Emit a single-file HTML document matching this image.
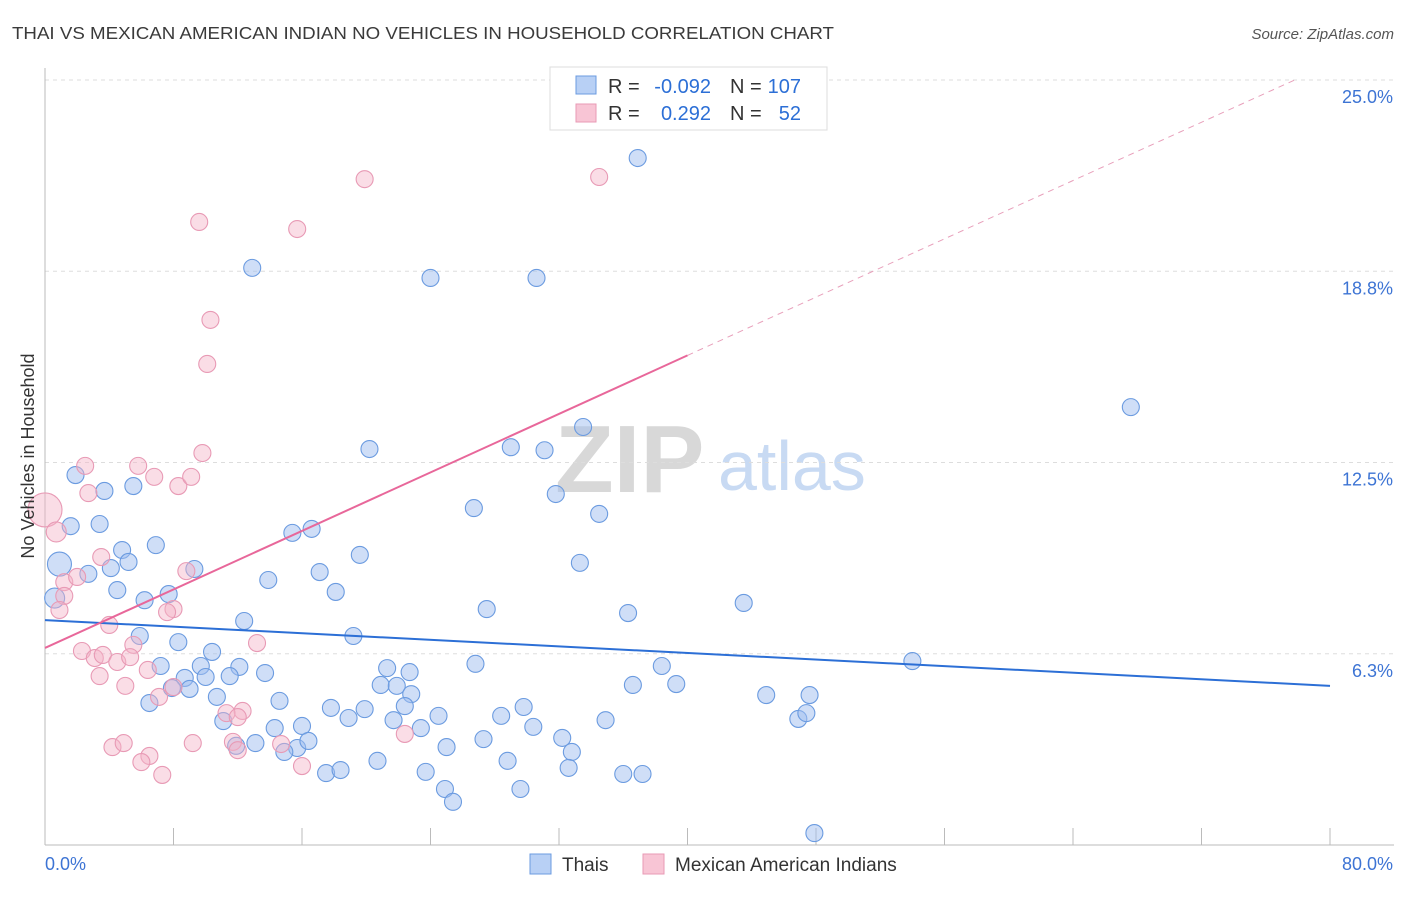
<!DOCTYPE html>
<html><head><meta charset="utf-8"><style>
body{margin:0;background:#fff;font-family:"Liberation Sans",sans-serif}
svg text{font-family:"Liberation Sans",sans-serif}
</style></head><body>
<svg id="chart" width="1406" height="892" xmlns="http://www.w3.org/2000/svg">
<text x="12" y="39" font-size="17.5" fill="#3a3a3a" textLength="822" lengthAdjust="spacingAndGlyphs">THAI VS MEXICAN AMERICAN INDIAN NO VEHICLES IN HOUSEHOLD CORRELATION CHART</text>
<text x="1394" y="39" font-size="15" fill="#555" text-anchor="end" font-style="italic">Source: ZipAtlas.com</text>
<g>
<text x="555" y="492" font-size="96" fill="#d8d8d8" font-family="Liberation Serif" font-weight="bold">ZIP</text>
<text x="718" y="490" font-size="70" fill="#c8daf3">atlas</text>
</g>
<g id="grid"></g>
<g id="axes"></g>
<g id="marks"></g>
<g>
<rect x="550" y="67" width="277" height="63" fill="#fff" stroke="#ddd"/>
<rect x="576" y="76" width="20" height="18" fill="#b8d0f5" stroke="#6b9be0"/>
<rect x="576" y="104" width="20" height="18" fill="#f8c5d5" stroke="#e89ab5"/>
<text x="608" y="93" font-size="20" fill="#333">R =</text>
<text x="711" y="93" font-size="20" fill="#2c6fd6" text-anchor="end">-0.092</text>
<text x="730" y="93" font-size="20" fill="#333">N =</text>
<text x="801" y="93" font-size="20" fill="#2c6fd6" text-anchor="end">107</text>
<text x="608" y="120" font-size="20" fill="#333">R =</text>
<text x="711" y="120" font-size="20" fill="#2c6fd6" text-anchor="end">0.292</text>
<text x="730" y="120" font-size="20" fill="#333">N =</text>
<text x="801" y="120" font-size="20" fill="#2c6fd6" text-anchor="end">52</text>
</g>
<g>
<rect x="530" y="854" width="21" height="20" fill="#b8d0f5" stroke="#6b9be0"/>
<text x="562" y="871" font-size="19" fill="#333">Thais</text>
<rect x="643" y="854" width="21" height="20" fill="#f8c5d5" stroke="#e89ab5"/>
<text x="675" y="871" font-size="19" fill="#333">Mexican American Indians</text>
</g>
<text transform="translate(34,456) rotate(-90)" font-size="18" fill="#333" text-anchor="middle">No Vehicles in Household</text>
</svg>
<script>
const yTicks=[6.25,12.5,18.75,25];
const yTickLabels=["6.3%","12.5%","18.8%","25.0%"];
const xTicks=[0,8,16,24,32,40,48,56,64,72,80];
const thaiX=[36.9,12.9,24.0,30.6,67.6,20.2,29.0,31.1,33.5,1.9,3.7,5.5,31.8,26.7,34.5,1.6,3.4,15.4,16.6,0.9,4.8,6.9,19.6,33.3,2.7,4.1,5.2,9.3,13.9,17.1,0.6,4.5,6.2,7.7,18.1,27.5,36.3,43.5,12.4,5.9,8.3,19.2,10.4,54.0,7.2,9.7,12.1,13.7,21.3,22.7,26.8,38.4,8.7,10.0,11.5,7.9,9.0,20.9,21.9,36.6,39.3,6.5,10.7,14.6,22.8,44.9,47.6,17.8,19.9,22.4,29.8,11.1,18.9,21.7,24.5,28.4,34.9,46.9,47.4,14.3,16.0,23.4,30.4,11.9,13.1,15.7,16.4,14.9,25.0,27.3,32.2,20.7,28.8,32.8,17.5,18.4,23.7,32.6,36.0,37.2,24.9,25.4,29.6,47.9];
const thaiY=[22.45,18.86,18.53,18.53,14.31,12.94,13.0,12.9,13.66,12.09,11.57,11.73,11.47,11.01,10.82,10.42,10.49,10.2,10.33,9.18,9.64,9.8,9.48,9.22,8.86,9.05,9.25,9.02,8.66,8.92,8.07,8.33,8.0,8.2,8.27,7.71,7.58,7.91,7.32,6.83,6.63,6.83,6.31,6.01,5.85,5.85,5.82,5.62,5.78,5.65,5.92,5.85,5.46,5.49,5.52,5.13,5.1,5.23,5.2,5.23,5.26,4.64,4.84,4.71,4.93,4.9,4.9,4.48,4.44,4.54,4.51,4.05,4.15,4.08,4.22,4.22,4.08,4.12,4.31,3.82,3.89,3.82,3.86,3.24,3.33,3.17,3.4,3.04,3.2,3.46,3.5,2.75,2.75,3.04,2.35,2.45,2.39,2.52,2.32,2.32,1.83,1.41,1.83,0.39];
const mexX=[19.9,34.5,9.6,15.7,10.3,10.1,9.8,2.5,5.8,2.7,6.8,8.3,9.1,0,0.7,3.5,8.8,1.2,2.0,1.2,0.9,8.0,7.6,4.0,13.2,5.5,2.3,3.1,3.6,4.5,5.3,3.4,6.4,5.0,8.0,7.1,12.3,11.3,12.0,11.7,12.0,14.7,22.4,4.2,4.9,9.2,6.5,6.0,7.3,16.0];
const mexY=[21.76,21.83,20.36,20.13,17.16,15.72,12.81,12.39,12.39,11.5,12.03,11.73,12.03,10.95,10.23,9.41,8.95,8.59,8.76,8.14,7.68,7.71,7.61,7.19,6.6,6.54,6.34,6.11,6.21,5.98,6.14,5.52,5.72,5.2,5.16,4.84,4.38,4.31,4.18,3.37,3.1,3.3,3.63,3.2,3.33,3.33,2.91,2.71,2.29,2.58];
const thaiTrend=[[0,7.35],[80,5.2]];
const mexTrend=[[0,6.44],[40,16.0]];
const mexTrendExt=[[40,16.0],[77.8,25]];
const NS="http://www.w3.org/2000/svg";
const X=v=>45+v*(1285/80);
const Y=v=>845-v*30.6;
function mk(tag,attrs,parent){const e=document.createElementNS(NS,tag);for(const k in attrs)e.setAttribute(k,attrs[k]);document.getElementById(parent).appendChild(e);return e;}
yTicks.forEach((t,i)=>{
 const l=mk('line',{x1:45,x2:1394,y1:Y(t),y2:Y(t),stroke:'#ddd','stroke-dasharray':'4,4'},'grid');
 
 
 const tx=mk('text',{x:1393,y:Y(t)+23,'font-size':18,fill:'#3d74d4','text-anchor':'end'},'axes');
 tx.textContent=yTickLabels[i];
 
 
});
const ax=mk('line',{x1:45,x2:1394,y1:845,y2:845,stroke:'#bbb'},'axes');


const ay=mk('line',{x1:45,x2:45,y1:68,y2:845,stroke:'#bbb'},'axes');


xTicks.forEach(t=>{
 const l=mk('line',{x1:X(t),x2:X(t),y1:828,y2:845,stroke:'#bbb'},'axes');
 
 
});
[["0.0%",45,"start"],["80.0%",1393,"end"]].forEach(a=>{
 const t=mk('text',{x:a[1],y:870,'font-size':18,fill:'#3d74d4','text-anchor':a[2]},'axes');
 t.textContent=a[0];
 
 
});
thaiX.forEach((x,i)=>{
 let r=8.5;
 if(i===19) r=12;
 if(i===30) r=10;
 const c=mk('circle',{cx:X(x),cy:Y(thaiY[i]),r:r,fill:'rgba(160,190,240,0.5)',stroke:'#6b9be0','stroke-width':1.1},'marks');
 
 
});
mexX.forEach((x,i)=>{
 let r=8.5;
 if(i===13) r=17;
 if(i===14) r=10;
 const c=mk('circle',{cx:X(x),cy:Y(mexY[i]),r:r,fill:'rgba(245,180,200,0.45)',stroke:'#e89ab5','stroke-width':1.1},'marks');
 
 
});
const t1=mk('line',{x1:X(thaiTrend[0][0]),y1:Y(thaiTrend[0][1]),x2:X(thaiTrend[1][0]),y2:Y(thaiTrend[1][1]),stroke:'#2c6fd6','stroke-width':2},'marks');


const t2=mk('line',{x1:X(mexTrend[0][0]),y1:Y(mexTrend[0][1]),x2:X(mexTrend[1][0]),y2:Y(mexTrend[1][1]),stroke:'#e8679a','stroke-width':2},'marks');


const t3=mk('line',{x1:X(mexTrendExt[0][0]),y1:Y(mexTrendExt[0][1]),x2:X(mexTrendExt[1][0]),y2:Y(mexTrendExt[1][1]),stroke:'#e8a0bb','stroke-width':1,'stroke-dasharray':'6,5'},'marks');


</script>
</body></html>
